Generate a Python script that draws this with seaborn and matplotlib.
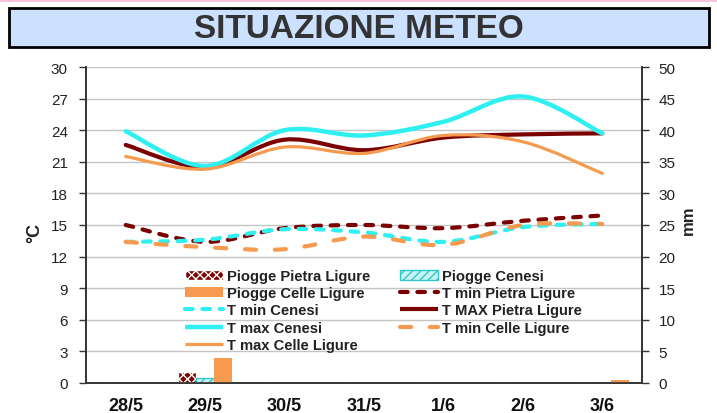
import numpy as np
import pandas as pd
import seaborn as sns
import matplotlib.pyplot as plt
from matplotlib.path import Path
from matplotlib.patches import PathPatch, Rectangle
from matplotlib.lines import Line2D

# ---- data ----
giorni = ['28/5', '29/5', '30/5', '31/5', '1/6', '2/6', '3/6']

# temperature (°C, left axis)
tmin_pietra = [15.0, 13.4, 14.7, 15.0, 14.7, 15.4, 15.9]
tmin_cenesi = [13.4, 13.6, 14.6, 14.3, 13.4, 14.8, 15.1]
tmax_pietra = [22.6, 20.5, 23.1, 22.1, 23.3, 23.6, 23.7]
tmax_cenesi = [23.9, 20.6, 24.0, 23.5, 24.8, 27.2, 23.7]
tmin_celle = [13.4, 12.9, 12.7, 13.9, 13.1, 15.0, 15.1]
tmax_celle = [21.5, 20.3, 22.4, 21.8, 23.5, 22.9, 19.9]

# piogge (mm, right axis)
piogge_pietra = [0, 1.8, 0, 0, 0, 0, 0]
piogge_cenesi = [0, 0.8, 0, 0, 0, 0, 0]
piogge_celle = [0, 4.0, 0, 0, 0, 0, 0.4]

stazioni_pioggia = ['Piogge Pietra Ligure', 'Piogge Cenesi', 'Piogge Celle Ligure']

MAROON = '#7b0000'
CYAN = '#2ef0f0'
ORANGE = '#f59a4e'

sns.set_style('white')
plt.rcParams['font.family'] = ['Liberation Sans', 'DejaVu Sans']
plt.rcParams['lines.scale_dashes'] = False
plt.rcParams['hatch.linewidth'] = 1.0

fig = plt.figure(figsize=(7.17, 4.14), dpi=100)

# header strip + title box
fig.add_artist(Rectangle((0, 1 - 3 / 414), 1, 3 / 414, transform=fig.transFigure,
                         facecolor='#f7c3da', edgecolor='none'))
fig.add_artist(Rectangle((9 / 717, 1 - 48 / 414), 700 / 717, 39 / 414, transform=fig.transFigure,
                         facecolor='#cce0ff', edgecolor='black', linewidth=2))
fig.text(0.5, 1 - 29 / 414, 'SITUAZIONE METEO', ha='center', va='center',
         fontsize=24, fontweight='bold', color='#333333')

ax = fig.add_axes([86 / 717, 1 - 384 / 414, 556 / 717, 316 / 414])
ax2 = ax.twinx()

# ---- bars (rain) ----
df = pd.DataFrame({
    'giorno': giorni * 3,
    'mm': piogge_pietra + piogge_cenesi + piogge_celle,
    'serie': [s for s in stazioni_pioggia for _ in giorni],
})
sns.barplot(data=df, x='giorno', y='mm', hue='serie', order=giorni, hue_order=stazioni_pioggia,
            palette=[MAROON, '#c8f4f4', ORANGE], saturation=1, width=0.68,
            errorbar=None, legend=False, ax=ax2)

bar_style = [('xxxx', 'white', '#222222'), ('////', '#30c8c8', '#222222'), (None, None, 'none')]
for cont, (hatch, hcol, ecol) in zip(ax2.containers, bar_style):
    for bar in cont.patches:
        if hatch:
            bar.set_hatch(hatch)
            if hasattr(bar, 'set_hatchcolor'):
                bar.set_hatchcolor(hcol)
                bar.set_edgecolor(ecol)
            else:
                bar.set_edgecolor(hcol)
            bar.set_linewidth(1)
        else:
            bar.set_edgecolor('none')

ax2.set_ylim(0, 50)
ax2.set_yticks(np.arange(0, 51, 5))
ax2.set_ylabel('')
ax2.set_xlabel('')


# ---- smooth lines (temperatures) ----
def smooth_path(xs, ys):
    pts = np.column_stack([xs, ys]).astype(float)
    ext = np.vstack([pts[0], pts, pts[-1]])
    verts = [pts[0]]
    codes = [Path.MOVETO]
    for i in range(len(pts) - 1):
        p0, p1, p2, p3 = ext[i], ext[i + 1], ext[i + 2], ext[i + 3]
        verts += [p1 + (p2 - p0) / 6, p2 - (p3 - p1) / 6, p2]
        codes += [Path.CURVE4] * 3
    return Path(verts, codes)


serie_temp = [
    ('T min Pietra Ligure', tmin_pietra, MAROON, 3.0, (0, (5.5, 7))),
    ('T min Cenesi', tmin_cenesi, CYAN, 3.0, (0, (5.5, 7))),
    ('T MAX Pietra Ligure', tmax_pietra, MAROON, 3.0, '-'),
    ('T max Cenesi', tmax_cenesi, CYAN, 3.2, '-'),
    ('T min Celle Ligure', tmin_celle, ORANGE, 3.0, (0, (8, 13.5))),
    ('T max Celle Ligure', tmax_celle, ORANGE, 2.3, '-'),
]
xpos = np.arange(len(giorni))
line_handles = []
for name, vals, col, lw, ls in serie_temp:
    ax.add_patch(PathPatch(smooth_path(xpos, vals), facecolor='none', edgecolor=col,
                           linewidth=lw, linestyle=ls, capstyle='round', joinstyle='round'))
    line_handles.append(Line2D([], [], color=col, lw=lw, linestyle=ls,
                               dash_capstyle='round', solid_capstyle='butt', label=name))

ax.set_ylim(0, 30)
ax.set_yticks(np.arange(0, 31, 3))
ax.set_xlim(-0.5, len(giorni) - 0.5)
ax.set_xticks(xpos)
ax.set_xticklabels(giorni, fontweight='bold', fontsize=13)
ax.set_xticks(np.arange(-0.5, len(giorni), 1), minor=True)
ax.tick_params(axis='x', which='major', length=0, pad=10, colors='#111111')
ax.tick_params(axis='x', which='minor', length=5, width=1, color='#333333', direction='out')
ax.tick_params(axis='y', length=5, width=1, color='#333333', direction='out', pad=8,
               labelsize=11, labelcolor='#222222', left=True)
ax2.tick_params(axis='y', length=5, width=1, color='#333333', direction='out', pad=7,
                labelsize=11, labelcolor='#222222', right=True)
ax.yaxis.grid(True, color='#c4c4c4', linewidth=1)
ax.set_axisbelow(True)

for a in (ax, ax2):
    a.spines['top'].set_visible(False)
    for s in ('left', 'right', 'bottom'):
        a.spines[s].set_color('#333333')
        a.spines[s].set_linewidth(1.2)

fig.text(35 / 717, 1 - 233 / 414, '°C', rotation=90, ha='center', va='center',
         fontsize=13, fontweight='bold', color='#222222')
fig.text(688 / 717, 1 - 220 / 414, 'mm', rotation=90, ha='center', va='center',
         fontsize=12, fontweight='bold', color='#222222')

# ---- legend (Excel row order, two columns) ----
bar_handles = [ax2.containers[i].patches[1] for i in range(3)]
all_handles = bar_handles + line_handles
all_labels = stazioni_pioggia + [s[0] for s in serie_temp]
order = [0, 2, 4, 6, 8, 1, 3, 5, 7]
leg = ax2.legend([all_handles[i] for i in order], [all_labels[i] for i in order],
                 ncol=2, loc='upper left', bbox_to_anchor=(185 / 717, 1 - 270 / 414),
                 bbox_transform=fig.transFigure, frameon=False, borderpad=0, borderaxespad=0,
                 handlelength=2.6, handletextpad=0.25, columnspacing=2.0, labelspacing=0.22,
                 prop={'weight': 'bold', 'size': 10.6})
for t in leg.get_texts():
    t.set_color('#222222')

fig.savefig('out.png', dpi=100)
